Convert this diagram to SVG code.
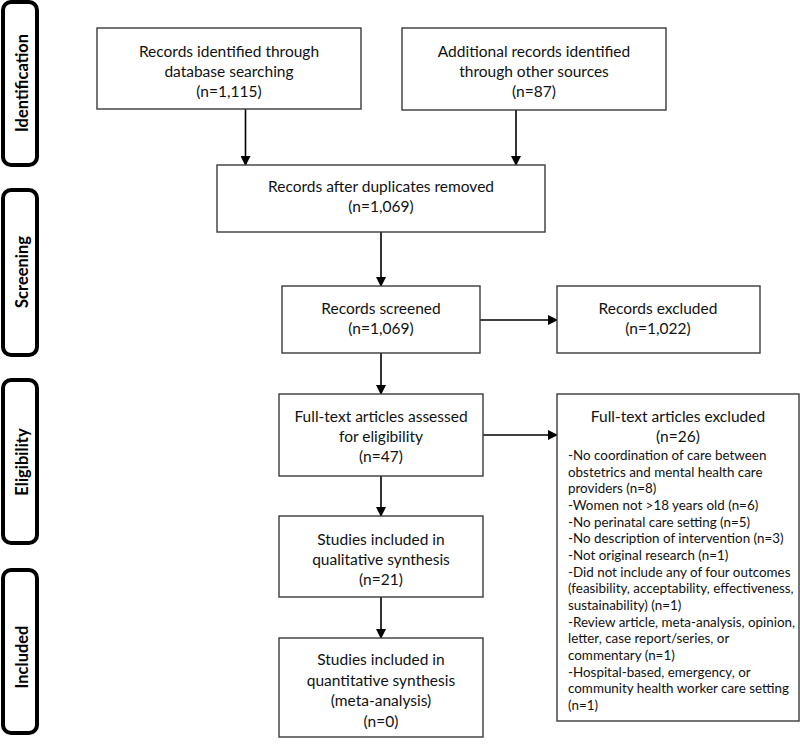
<svg xmlns="http://www.w3.org/2000/svg" width="800" height="747" viewBox="0 0 800 747">
<style>
.stage{fill:#fff;stroke:#000;stroke-width:4}
.stxt{font-family:Lato,"Open Sans",sans-serif;font-weight:bold;font-size:16.5px;fill:#000;text-anchor:middle}
.box{fill:#fff;stroke:#3a3a3a;stroke-width:1.4}
.t{font-family:Lato,"Open Sans",sans-serif;font-size:15.5px;fill:#111;text-anchor:middle}
.l{font-family:Lato,"Open Sans",sans-serif;font-size:13.4px;fill:#111}
.c{stroke:#000;stroke-width:1.6;fill:none;marker-end:url(#ah)}
</style>
<defs>
<marker id="ah" markerWidth="10" markerHeight="10" refX="9" refY="5" orient="auto" markerUnits="userSpaceOnUse">
<path d="M0,0 L10,5 L0,10 z" fill="#000"/>
</marker>
</defs>
<rect width="800" height="747" fill="#fff"/>
<g id="stage-identification"><rect class="stage" x="3" y="2" width="34" height="163" rx="8"/><text class="stxt" transform="translate(28,83) rotate(-90)">Identification</text></g>
<g id="stage-screening"><rect class="stage" x="3" y="190" width="34" height="165" rx="8"/><text class="stxt" transform="translate(28,272) rotate(-90)">Screening</text></g>
<g id="stage-eligibility"><rect class="stage" x="3" y="380" width="34" height="163" rx="8"/><text class="stxt" transform="translate(28,462) rotate(-90)">Eligibility</text></g>
<g id="stage-included"><rect class="stage" x="3" y="570" width="34" height="163" rx="8"/><text class="stxt" transform="translate(28,657) rotate(-90)">Included</text></g>

<g id="connectors">
<line class="c" x1="245.5" y1="109" x2="245.5" y2="165"/>
<line class="c" x1="516" y1="110" x2="516" y2="165"/>
<line class="c" x1="381" y1="232" x2="381" y2="286"/>
<line class="c" x1="480" y1="320" x2="557" y2="320"/>
<line class="c" x1="381" y1="353" x2="381" y2="394"/>
<line class="c" x1="483" y1="435" x2="557" y2="435"/>
<line class="c" x1="381" y1="476" x2="381" y2="516"/>
<line class="c" x1="381" y1="597" x2="381" y2="638"/>
</g>

<g id="db-records"><rect class="box" x="97" y="28" width="264" height="81"/>
<text class="t" x="229" y="57">Records identified through</text>
<text class="t" x="229" y="77">database searching</text>
<text class="t" x="229" y="97">(n=1,115)</text></g>

<g id="other-records"><rect class="box" x="402" y="28" width="264" height="82"/>
<text class="t" x="534" y="57">Additional records identified</text>
<text class="t" x="534" y="77">through other sources</text>
<text class="t" x="534" y="97">(n=87)</text></g>

<g id="dedup"><rect class="box" x="217" y="165" width="328" height="67"/>
<text class="t" x="381" y="192">Records after duplicates removed</text>
<text class="t" x="381" y="212">(n=1,069)</text></g>

<g id="screened"><rect class="box" x="282" y="286" width="198" height="67"/>
<text class="t" x="381" y="314">Records screened</text>
<text class="t" x="381" y="334">(n=1,069)</text></g>

<g id="excluded"><rect class="box" x="557" y="286" width="203" height="67"/>
<text class="t" x="658" y="314">Records excluded</text>
<text class="t" x="658" y="334">(n=1,022)</text></g>

<g id="fulltext"><rect class="box" x="279" y="394" width="204" height="82"/>
<text class="t" x="381" y="422">Full-text articles assessed</text>
<text class="t" x="381" y="442">for eligibility</text>
<text class="t" x="381" y="462">(n=47)</text></g>

<g id="fulltext-excluded"><rect class="box" x="557" y="394" width="242" height="327"/>
<text class="t" x="678" y="422">Full-text articles excluded</text>
<text class="t" x="678" y="442">(n=26)</text>
<text class="l" x="568" y="460">-No coordination of care between</text>
<text class="l" x="568" y="476.7">obstetrics and mental health care</text>
<text class="l" x="568" y="493.3">providers (n=8)</text>
<text class="l" x="568" y="510">-Women not &gt;18 years old (n=6)</text>
<text class="l" x="568" y="526.7">-No perinatal care setting (n=5)</text>
<text class="l" x="568" y="543.3">-No description of intervention (n=3)</text>
<text class="l" x="568" y="560">-Not original research (n=1)</text>
<text class="l" x="568" y="576.7">-Did not include any of four outcomes</text>
<text class="l" x="568" y="593.3">(feasibility, acceptability, effectiveness,</text>
<text class="l" x="568" y="610">sustainability) (n=1)</text>
<text class="l" x="568" y="626.7">-Review article, meta-analysis, opinion,</text>
<text class="l" x="568" y="643.3">letter, case report/series, or</text>
<text class="l" x="568" y="660">commentary (n=1)</text>
<text class="l" x="568" y="676.7">-Hospital-based, emergency, or</text>
<text class="l" x="568" y="693.3">community health worker care setting</text>
<text class="l" x="568" y="710">(n=1)</text></g>

<g id="qualitative"><rect class="box" x="279" y="516" width="204" height="81"/>
<text class="t" x="381" y="545">Studies included in</text>
<text class="t" x="381" y="565">qualitative synthesis</text>
<text class="t" x="381" y="585">(n=21)</text></g>

<g id="quantitative"><rect class="box" x="279" y="638" width="204" height="99"/>
<text class="t" x="381" y="665">Studies included in</text>
<text class="t" x="381" y="686">quantitative synthesis</text>
<text class="t" x="381" y="706">(meta-analysis)</text>
<text class="t" x="381" y="727">(n=0)</text></g>
</svg>
